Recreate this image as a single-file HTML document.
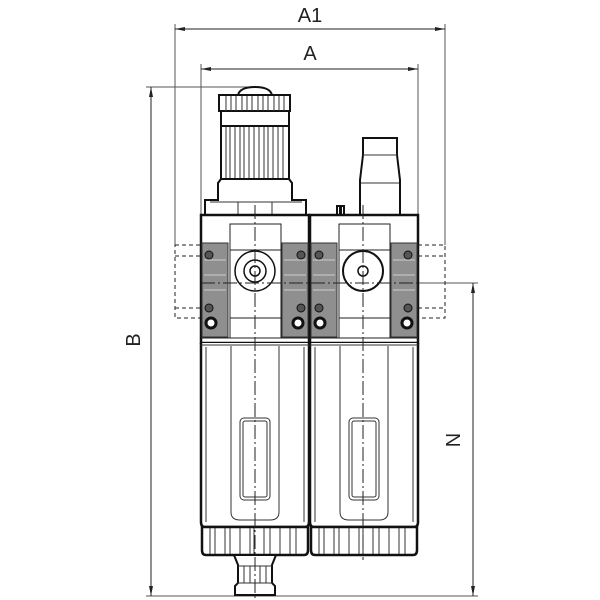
<!DOCTYPE html>
<html><head><meta charset="utf-8"><style>html,body{margin:0;padding:0;background:#fff}svg{display:block}</style></head><body>
<svg width="600" height="600" viewBox="0 0 600 600" xmlns="http://www.w3.org/2000/svg" font-family="Liberation Sans, sans-serif">
<defs>
<marker id="ar" markerWidth="10" markerHeight="6" refX="10" refY="3" orient="auto-start-reverse" markerUnits="userSpaceOnUse"><path d="M0,1 L10,3 L0,5 Z" fill="#222"/></marker>
</defs>
<g stroke="#555" stroke-width="1" fill="none">
<!-- extension lines -->
<line x1="175" y1="24" x2="175" y2="245"/>
<line x1="445" y1="24" x2="445" y2="245"/>
<line x1="201" y1="64" x2="201" y2="215"/>
<line x1="418" y1="64" x2="418" y2="215"/>
<line x1="146" y1="87" x2="260" y2="87"/>
<line x1="146" y1="596" x2="478" y2="596"/>
<line x1="418" y1="283" x2="478" y2="283"/>
</g>
<g stroke="#222" stroke-width="1" fill="none">
<line x1="175" y1="29" x2="445" y2="29" marker-start="url(#ar)" marker-end="url(#ar)"/>
<line x1="201" y1="69" x2="418" y2="69" marker-start="url(#ar)" marker-end="url(#ar)"/>
<line x1="151" y1="87" x2="151" y2="596" marker-start="url(#ar)" marker-end="url(#ar)"/>
<line x1="473" y1="283" x2="473" y2="596" marker-start="url(#ar)" marker-end="url(#ar)"/>
</g>
<text x="310" y="22" font-size="20" text-anchor="middle" fill="#222">A1</text>
<text x="310" y="60" font-size="20" text-anchor="middle" fill="#222">A</text>
<text transform="translate(140,340) rotate(-90)" font-size="20" text-anchor="middle" fill="#222">B</text>
<text transform="translate(460,440) rotate(-90)" font-size="20" text-anchor="middle" fill="#222">N</text>

<!-- dashed ports -->
<g stroke="#222" stroke-width="1" stroke-dasharray="4,3" fill="none">
<rect x="175" y="245" width="26" height="73"/>
<line x1="175" y1="256" x2="201" y2="256"/><line x1="175" y1="308" x2="201" y2="308"/>
<rect x="418" y="245" width="27" height="73"/>
<line x1="418" y1="256" x2="445" y2="256"/><line x1="418" y1="308" x2="445" y2="308"/>
</g>

<!-- knob -->
<g stroke="#111" stroke-width="2" fill="#fff">
<path d="M238,95 Q240,87 255,87 Q270,87 272,95 Z"/>
<rect x="219" y="95" width="71" height="16"/>
<rect x="221" y="111" width="68" height="15"/>
<rect x="221" y="126" width="68" height="53"/>
<path d="M221,179 L218,183 L218,200 L205,200 L205,215 L306,215 L306,200 L292,200 L292,183 L289,179 Z"/>
</g>
<g stroke="#333" stroke-width="1">
<path d="M226,96v15M231,96v15M236,96v15M242,96v15M247,96v15M252,96v15M258,96v15M263,96v15M268,96v15M274,96v15M279,96v15M284,96v15"/>
<path d="M226,127v51M230,127v51M235,127v51M240,127v51M244,127v51M249,127v51M254,127v51M259,127v51M264,127v51M268,127v51M273,127v51M278,127v51M283,127v51"/>
<path d="M210,202h92M238,202v12M272,202v12"/>
</g>
<!-- right stem -->
<g stroke="#111" stroke-width="2" fill="#fff">
<path d="M363,138 L397,138 L397,155 L400,180 L400,215 L360,215 L360,180 L363,155 Z"/>
<path d="M337,215 v-9 h3 v9 M341,215 v-9 h3 v9"/>
</g>
<line x1="363" y1="155" x2="397" y2="155" stroke="#333"/>
<line x1="361" y1="183" x2="399" y2="183" stroke="#333"/>

<!-- main body -->
<g stroke="#111" stroke-width="2.5" fill="#fff">
<rect x="201" y="215" width="108" height="128"/>
<rect x="310" y="215" width="108" height="128"/>
</g>
<g fill="#8f8f8f" stroke="#333" stroke-width="1">
<rect x="202" y="243" width="26" height="94"/>
<rect x="282" y="243" width="26" height="94"/>
<rect x="311" y="243" width="26" height="94"/>
<rect x="391" y="243" width="26" height="94"/>
</g>
<g stroke="#ccc" stroke-width="1">
<path d="M204,260h22M204,275h22M204,290h22M284,260h22M284,275h22M284,290h22M313,260h22M313,275h22M313,290h22M393,260h22M393,275h22M393,290h22"/>
</g>
<g stroke="#222" stroke-width="1" fill="#fff">
<rect x="230" y="224" width="51" height="114"/>
<rect x="339" y="224" width="51" height="114"/>
<line x1="230" y1="250" x2="281" y2="250"/><line x1="230" y1="318" x2="281" y2="318"/>
<line x1="339" y1="250" x2="390" y2="250"/><line x1="339" y1="318" x2="390" y2="318"/>
<line x1="201" y1="338" x2="309" y2="338"/><line x1="310" y1="338" x2="418" y2="338"/>
</g>
<g stroke="#111" stroke-width="1.5" fill="none">
<circle cx="255" cy="271" r="20"/><circle cx="255" cy="271" r="11"/><circle cx="255" cy="271" r="5"/>
<circle cx="363" cy="271" r="20" stroke-width="2"/><circle cx="363" cy="271" r="5"/>
</g>
<g fill="#555" stroke="#111" stroke-width="1">
<circle cx="209" cy="255" r="4"/><circle cx="301" cy="255" r="4"/><circle cx="319" cy="255" r="4"/><circle cx="408" cy="255" r="4"/>
<circle cx="209" cy="308" r="4"/><circle cx="301" cy="308" r="4"/><circle cx="319" cy="308" r="4"/><circle cx="408" cy="308" r="4"/>
</g>
<g fill="#fff" stroke="#111" stroke-width="3">
<circle cx="211" cy="323" r="5"/><circle cx="298" cy="323" r="5"/><circle cx="320" cy="323" r="5"/><circle cx="407" cy="323" r="5"/>
</g>

<!-- bowls -->
<g stroke="#111" stroke-width="2.5" fill="#fff">
<path d="M201,343 V522 Q201,527 205,527 H305 Q309,527 309,522 V343"/>
<path d="M310,343 V522 Q310,527 314,527 H414 Q418,527 418,522 V343"/>
<path d="M202,527 H308 V550 Q308,555 304,555 H206 Q202,555 202,550 Z"/>
<path d="M311,527 H417 V550 Q417,555 413,555 H315 Q311,555 311,550 Z"/>
</g>
<g stroke="#333" stroke-width="1" fill="none">
<path d="M206,347 V522 M304,347 V522 M315,347 V522 M413,347 V522"/>
<path d="M201,345 H309 M310,345 H418"/>
<path d="M231,346 V512 Q231,520 240,520 H270 Q279,520 279,512 V346"/>
<path d="M340,346 V512 Q340,520 349,520 H379 Q388,520 388,512 V346"/>
<rect x="240" y="418" width="30" height="82" rx="4"/><rect x="243" y="421" width="24" height="76" rx="2"/>
<rect x="349" y="418" width="30" height="82" rx="4"/><rect x="352" y="421" width="24" height="76" rx="2"/>
<path d="M210,528v26M215,528v26M225,528v26M230,528v26M240,528v26M250,528v26M254,528v26M264,528v26M270,528v26M280,528v26M290,528v26M296,528v26"/>
<path d="M319,528v26M324,528v26M334,528v26M339,528v26M349,528v26M359,528v26M363,528v26M373,528v26M379,528v26M389,528v26M399,528v26M405,528v26"/>
</g>
<!-- drain -->
<g stroke="#111" stroke-width="2" fill="#fff">
<path d="M234,555 L238,565 L238,583 L235,586 L235,595 L275,595 L275,586 L272,583 L272,565 L276,555 Z"/>
</g>
<g stroke="#333" stroke-width="1"><path d="M238,566h34M238,583h34M244,566v17M250,566v17M260,566v17M266,566v17"/></g>

<!-- center lines -->
<g stroke="#222" stroke-width="1" stroke-dasharray="14,3,2,3" fill="none">
<line x1="255" y1="205" x2="255" y2="600"/>
<line x1="363" y1="205" x2="363" y2="560"/>
<line x1="201" y1="283" x2="418" y2="283"/>
</g>
</svg>
</body></html>
